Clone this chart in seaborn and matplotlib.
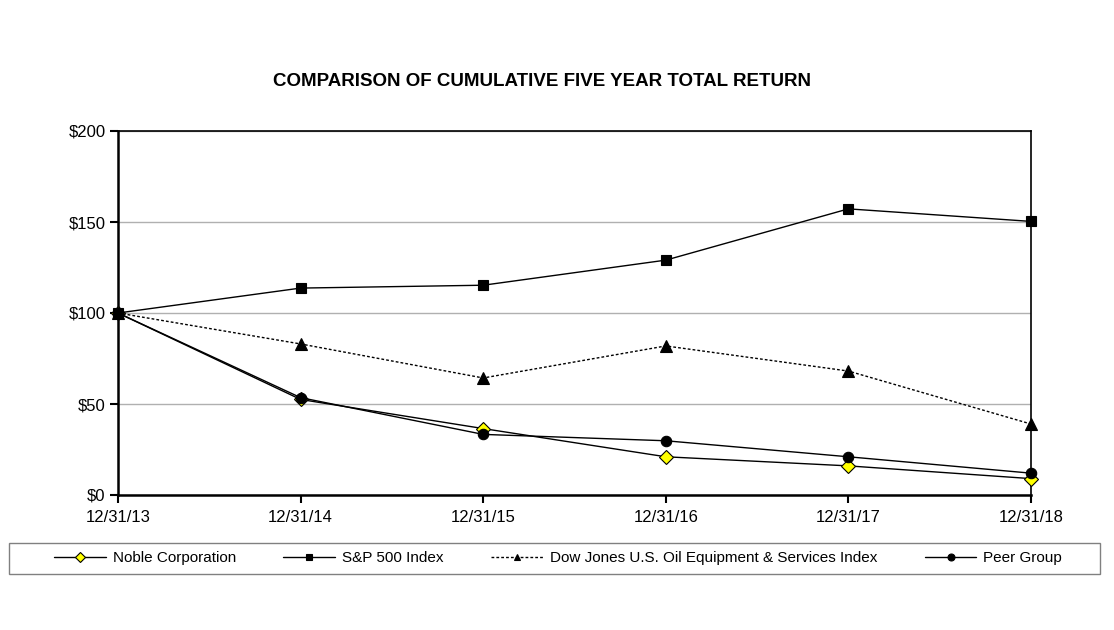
"""Cumulative five year total return comparison chart."""
import matplotlib
import matplotlib.pyplot as plt
import numpy as np
import pandas as pd
import seaborn as sns
from matplotlib.patches import Rectangle

matplotlib.use("Agg")

years = ["12/31/13", "12/31/14", "12/31/15", "12/31/16", "12/31/17", "12/31/18"]
noble = [100, 52.5, 36.5, 21.0, 16.0, 9.0]
sp500 = [100, 113.69, 115.26, 129.05, 157.22, 150.33]
dow_oil = [100, 83.0, 64.3, 81.9, 68.1, 39.0]
peer = [100, 53.5, 33.3, 29.8, 21.0, 12.0]

series_names = [
    "Noble Corporation",
    "S&P 500 Index",
    "Dow Jones U.S. Oil Equipment & Services Index",
    "Peer Group",
]
y_ticks = [0, 50, 100, 150, 200]
y_tick_labels = ["$0", "$50", "$100", "$150", "$200"]

sns.set_style("white")
plt.rcParams["font.family"] = ["Liberation Sans", "DejaVu Sans"]
plt.rcParams["text.color"] = "black"

W, H = 1114, 630
fig = plt.figure(figsize=(W / 100, H / 100), dpi=100)
ax = fig.add_axes([118 / W, 135 / H, 913 / W, 364 / H])

pos = np.arange(len(years))
styles = [
    # marker, face, size, linestyle
    ("D", "#ffff00", 7, "-"),
    ("s", "black", 7.5, "-"),
    ("^", "black", 8, (0, (2, 1.5))),
    ("o", "black", 7.5, "-"),
]
data = [noble, sp500, dow_oil, peer]

handles = []
for name, vals, (mk, fc, ms, ls) in zip(series_names, data, styles):
    df = pd.DataFrame({"x": pos, "y": vals})
    sns.lineplot(data=df, x="x", y="y", ax=ax, color="black", linewidth=1,
                 linestyle=ls, marker=mk, markersize=ms,
                 markerfacecolor=fc, markeredgecolor="black",
                 markeredgewidth=0.8, label=name, legend=False)
    ax.lines[-1].set_clip_on(False)
    ax.lines[-1].set_zorder(3)
    handles.append(ax.lines[-1])

ax.set_xlim(0, 5)
ax.set_ylim(0, 200)
ax.set_xticks(pos)
ax.set_xticklabels(years)
ax.set_yticks(y_ticks)
ax.set_yticklabels(y_tick_labels)
ax.set_xlabel("")
ax.set_ylabel("")
ax.yaxis.grid(True, color="#b0b0b0", linewidth=1)
ax.set_axisbelow(True)
for side in ["left", "bottom"]:
    ax.spines[side].set_linewidth(1.8)
    ax.spines[side].set_color("black")
for side in ["top", "right"]:
    ax.spines[side].set_linewidth(1.2)
    ax.spines[side].set_color("black")
ax.tick_params(axis="both", direction="out", length=6, width=1.5,
               labelsize=12, color="black", labelcolor="black", pad=3)
ax.tick_params(axis="x", pad=5)
ax.tick_params(left=True, bottom=True)

fig.text(542 / W, 1 - 82 / H, "COMPARISON OF CUMULATIVE FIVE YEAR TOTAL RETURN",
         ha="center", va="center", fontsize=13.5, fontweight="bold", color="black")

# legend frame spans the full width, items sit centred inside it
fig.patches.append(Rectangle((9 / W, 1 - 574 / H), 1091 / W, 31 / H,
                             transform=fig.transFigure, fill=False,
                             edgecolor="#808080", linewidth=1))
leg = fig.legend(handles, series_names, ncol=4, loc="center",
                 bbox_to_anchor=(558 / W, 1 - 558 / H),
                 frameon=False, fontsize=11,
                 borderaxespad=0, handlelength=3.4, handletextpad=0.45,
                 columnspacing=3.1)
for h in leg.legend_handles:
    h.set_markersize(5)

fig.savefig("out.png", dpi=100)
